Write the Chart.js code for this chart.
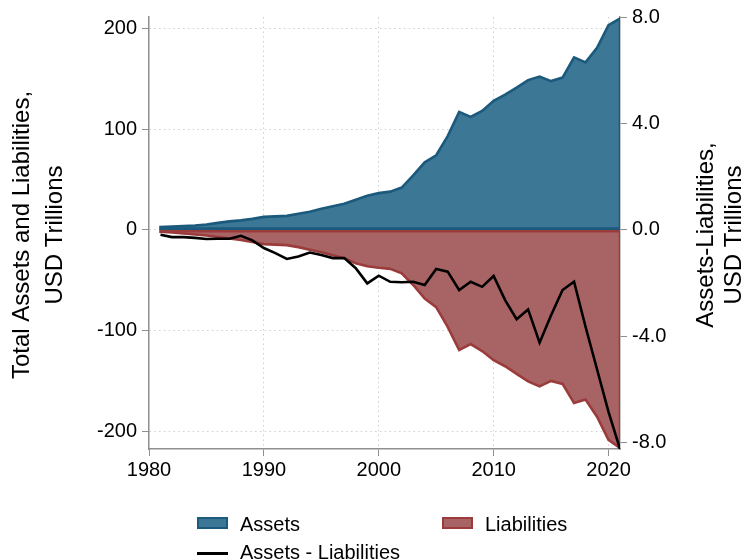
<!DOCTYPE html>
<html>
<head>
<meta charset="utf-8">
<script src="https://cdn.jsdelivr.net/npm/chart.js@4.4.1/dist/chart.umd.min.js"></script>
<style>
  body { margin: 0; background: #fff; }
  #wrap { position: relative; width: 746px; height: 560px; overflow: hidden; font-family: "Liberation Sans", Arial, sans-serif; }
  .lg-box { position: absolute; width: 31px; height: 12px; box-sizing: border-box; border: 2.5px solid; }
  .lg-line { position: absolute; width: 31px; height: 3px; background: #000; }
  .lg-text { position: absolute; font-size: 20px; line-height: 24px; color: #000; white-space: nowrap; }
</style>
</head>
<body>
<div id="wrap">
  <canvas id="myChart" width="746" height="560"></canvas>
  <div class="lg-box" style="left:197px;top:517px;background:#3c7795;border-color:#1b5a7d;"></div>
  <div class="lg-text" style="left:240px;top:512px;">Assets</div>
  <div class="lg-box" style="left:442px;top:517px;background:#a86464;border-color:#9b3b3b;"></div>
  <div class="lg-text" style="left:485px;top:512px;">Liabilities</div>
  <div class="lg-line" style="left:197px;top:552px;"></div>
  <div class="lg-text" style="left:240px;top:540px;">Assets - Liabilities</div>
</div>
<script>
// years 1981-2021
let years = [];
for (let y = 1981; y <= 2021; y++) years.push(y);

// total assets, USD trillions (left axis)
let assets = [3, 3.5, 4, 4.5, 5.5, 7, 8.5, 9.5, 11, 13,
  13.5, 14, 16, 18, 21, 23.5, 26, 30, 34, 36.5,
  38, 42, 54, 67, 74, 93, 117, 112, 118, 128,
  134, 141, 148.5, 152, 147.5, 151, 171, 166, 180.5, 203,
  209.5];

// total liabilities (shown negative, left axis)
let liabilities = [-1.7, -2.5, -3.5, -4.5, -5.5, -7, -8.5, -10, -12, -14,
  -14.5, -15, -17, -19.5, -22, -25, -28, -33, -36, -37.5,
  -38.5, -43, -54.5, -68, -76.5, -96, -119, -113, -120, -129,
  -135, -142.5, -150, -155, -149.5, -152.5, -171.5, -168, -185, -208,
  -216];

// assets - liabilities (right axis)
let net = [-0.19, -0.28, -0.28, -0.31, -0.35, -0.34, -0.34, -0.23, -0.40, -0.69,
  -0.88, -1.10, -1.01, -0.86, -0.95, -1.07, -1.07, -1.45, -2.02, -1.73,
  -1.96, -1.98, -1.96, -2.08, -1.48, -1.58, -2.27, -1.96, -2.15, -1.74,
  -2.65, -3.37, -3.0, -4.25, -3.22, -2.27, -1.96, -3.65, -5.25, -6.85,
  -8.25];

let xTicks = [1980, 1990, 2000, 2010, 2020];
let leftTicks = [-200, -100, 0, 100, 200];
let rightTicks = [-8, -4, 0, 4, 8];

const blueFill = '#3c7795', blueLine = '#1b5a7d';
const redFill = '#a86464', redLine = '#9b3b3b';
const axisGray = '#8f8f8f';
const gridGray = '#cfcfcf';
const font = "'Liberation Sans', Arial, sans-serif";

// area outline goes down to zero at both ends, like the original
function areaPoints(vals) {
    let pts = [{ x: years[0], y: 0 }];
    vals.forEach((v, i) => pts.push({ x: years[i], y: v }));
    pts.push({ x: years[years.length - 1], y: 0 });
    return pts;
}

const baselinePlugin = {
    id: 'baseline',
    beforeDatasetDraw(chart, args) {
        if (args.index !== 0) return;
        let ctx = chart.ctx;
        let x0 = chart.scales.x.getPixelForValue(years[0]);
        let x1 = chart.scales.x.getPixelForValue(years[years.length - 1]);
        let y0 = chart.scales.y.getPixelForValue(0);
        ctx.save();
        ctx.lineWidth = 2.6;
        ctx.strokeStyle = blueLine;
        ctx.beginPath(); ctx.moveTo(x0, y0 - 1.3); ctx.lineTo(x1, y0 - 1.3); ctx.stroke();
        ctx.strokeStyle = redLine;
        ctx.beginPath(); ctx.moveTo(x0, y0 + 1.3); ctx.lineTo(x1, y0 + 1.3); ctx.stroke();
        ctx.restore();
    }
};

const titlesPlugin = {
    id: 'titles',
    afterDraw(chart) {
        let ctx = chart.ctx;
        let cy = (chart.chartArea.top + chart.chartArea.bottom) / 2;
        ctx.save();
        ctx.fillStyle = '#000';
        ctx.font = '24px ' + font;
        ctx.textAlign = 'center';
        ctx.textBaseline = 'middle';
        [[22, 'Total Assets and Liabilities,'], [55, 'USD Trillions'],
         [706, 'Assets-Liabilities,'], [734, 'USD Trillions']].forEach(t => {
            ctx.save();
            ctx.translate(t[0], cy + 2);
            ctx.rotate(-Math.PI / 2);
            ctx.fillText(t[1], 0, 0);
            ctx.restore();
        });
        ctx.restore();
    }
};

let ctx = document.getElementById('myChart').getContext('2d');
let myChart = new Chart(ctx, {
    type: 'line',
    data: {
        datasets: [{
            label: 'Assets - Liabilities',
            data: net.map((v, i) => ({ x: years[i], y: v })),
            yAxisID: 'y2',
            borderColor: '#000',
            borderWidth: 2.6,
            pointRadius: 0,
            tension: 0,
            fill: false,
            order: 0
        }, {
            label: 'Liabilities',
            data: areaPoints(liabilities),
            yAxisID: 'y',
            borderColor: redLine,
            backgroundColor: redFill,
            borderWidth: 2.6,
            pointRadius: 0,
            tension: 0,
            fill: 'origin',
            order: 1
        }, {
            label: 'Assets',
            data: areaPoints(assets),
            yAxisID: 'y',
            borderColor: blueLine,
            backgroundColor: blueFill,
            borderWidth: 2.6,
            pointRadius: 0,
            tension: 0,
            fill: 'origin',
            order: 2
        }]
    },
    options: {
        responsive: false,
        animation: false,
        layout: { padding: { top: 17, left: 0, right: 0, bottom: 0 } },
        plugins: { legend: { display: false }, tooltip: { enabled: false } },
        scales: {
            x: {
                type: 'linear',
                min: 1980,
                max: 2021,
                afterFit: s => { s.height = 111; },
                afterBuildTicks: s => { s.ticks = xTicks.map(v => ({ value: v })); },
                ticks: { color: '#000', font: { size: 20, family: font }, padding: 2, maxRotation: 0,
                         callback: v => String(v) },
                grid: {
                    color: c => (c.tick && c.tick.value === 1980) ? 'rgba(0,0,0,0)' : gridGray,
                    tickColor: axisGray,
                    tickLength: 7,
                    lineWidth: 1
                },
                border: { color: axisGray, width: 1.5, dash: [1.5, 3.3] }
            },
            y: {
                position: 'left',
                min: -217,
                max: 211,
                afterFit: s => { s.width = 149; },
                afterBuildTicks: s => { s.ticks = leftTicks.map(v => ({ value: v })); },
                ticks: { color: '#000', font: { size: 20, family: font }, padding: 5 },
                grid: { color: gridGray, tickColor: axisGray, tickLength: 7, lineWidth: 1 },
                border: { color: axisGray, width: 1.5, dash: [1.5, 3.3] }
            },
            y2: {
                position: 'right',
                min: -8.25,
                max: 8.0,
                afterFit: s => { s.width = 126; },
                afterBuildTicks: s => { s.ticks = rightTicks.map(v => ({ value: v })); },
                ticks: { color: '#000', font: { size: 20, family: font }, padding: 5,
                         callback: v => v.toFixed(1) },
                grid: { drawOnChartArea: false, tickColor: axisGray, tickLength: 7 },
                border: { color: axisGray, width: 1.5 }
            }
        }
    },
    plugins: [baselinePlugin, titlesPlugin]
});
</script>
</body>
</html>
